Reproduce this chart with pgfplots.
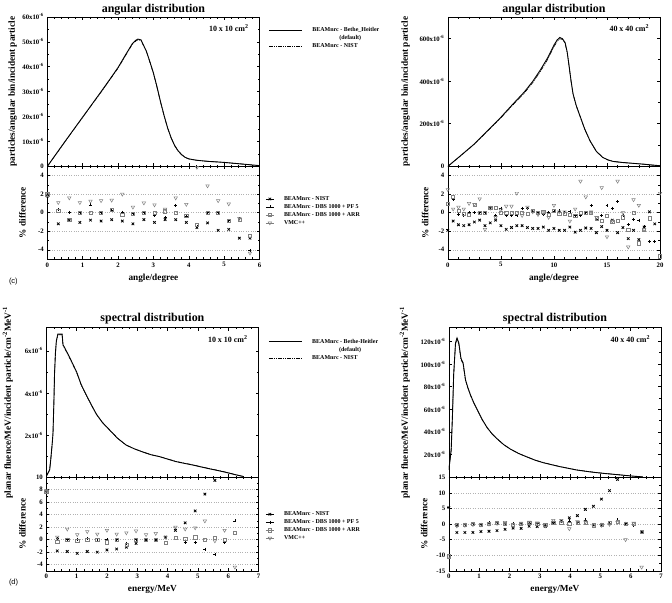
\documentclass[border=0pt]{standalone}
\usepackage{pgfplots}
\pgfplotsset{compat=1.18}
\usepackage{fontspec}
\setmainfont{Liberation Serif}
\newfontfamily\arialf{Liberation Sans}
\begin{document}
\pgfplotsset{
  base/.style={scale only axis, width=213pt,
    axis line style={line width=0.6pt},
    tick style={black, line width=0.5pt},
    major tick length=3pt, minor tick length=1.6pt,
    tick label style={font=\fontsize{6.8}{7}\selectfont\bfseries},
    label style={font=\fontsize{9.3}{10}\selectfont\bfseries},
    title style={font=\fontsize{12}{13}\selectfont\bfseries, at={(rel axis cs:0.5,1)}, anchor=base},
    /pgf/number format/assume math mode=true,
    anchor=north west},
  legbase/.style={legend style={draw=none, fill=none, inner xsep=0pt, inner ysep=0pt,
      font=\fontsize{6}{7}\selectfont\bfseries,
      nodes={inner xsep=2pt, inner ysep=0.5pt, text height=4.6pt, text depth=1.4pt},
      cells={anchor=west}, row sep=1pt,
      /tikz/every odd column/.append style={column sep=8pt}}},
  upper/.style={base, height=150pt, xticklabels={}, minor x tick num=4, minor y tick num=1, legbase,
    legend image code/.code={\draw[##1] (0pt,0pt) -- (33pt,0pt);}},
  lower/.style={base, minor x tick num=4, minor y tick num=1, legbase,
    ymajorgrids, grid style={gray!60, dotted, line width=0.5pt},
    legend image code/.code={\path (0pt,0pt) -- (8pt,0pt); \draw[mark repeat=2,mark phase=2,##1] plot coordinates {(0pt,0pt) (4pt,0pt) (8pt,0pt)};}},
  bh/.style={black, line width=0.9pt},
  nistl/.style={black, line width=0.6pt, dash pattern=on 4pt off 1pt on 1pt off 1pt on 1pt off 1pt},
  nist/.style={only marks, mark=x, mark size=1.8pt, black, mark options={line width=0.8pt}},
  pf/.style={only marks, mark=+, mark size=1.5pt, black, mark options={line width=0.6pt}},
  arr/.style={only marks, mark=square, mark size=1.6pt, gray, mark options={line width=0.5pt}},
  vmc/.style={only marks, mark=triangle, mark size=2pt, gray, mark options={rotate=180, line width=0.5pt}},
  ylab/.style={ylabel style={at={([xshift=#1]rel axis cs:0,0.5)}, anchor=south}},
}
\begin{tikzpicture}[x=1pt,y=1pt]
\useasboundingbox (0,0) rectangle (672,605);
% ================= TL upper =================
\begin{axis}[upper, at={(45pt,588pt)}, xmin=0, xmax=6, ymin=0, ymax=60,
  xtick={0,1,...,6},
  ytick={0,10,...,60},
  yticklabels={0,10x10\textsuperscript{-6},20x10\textsuperscript{-6},30x10\textsuperscript{-6},40x10\textsuperscript{-6},50x10\textsuperscript{-6},60x10\textsuperscript{-6}},
  title={angular distribution}, title style={yshift=-1.5pt},
  ylabel={particles/angular bin/incident particle}, ylab=-27pt,
  legend style={at={(1.042,0.937)}, anchor=north west}]
\addplot[bh] coordinates {(0,0)(0.5,10)(1,19.8)(1.5,29.6)(1.75,34.6)(2,39.7)(2.2,44.5)(2.4,49.2)(2.5,50.6)(2.56,51.1)(2.65,50.8)(2.7,49.2)(2.8,46.3)(2.9,42)(3.0,37.5)(3.1,32)(3.2,26)(3.3,20.5)(3.4,15.5)(3.5,11.5)(3.6,8.4)(3.7,6.2)(3.8,4.7)(3.9,3.6)(4.0,3.0)(4.2,2.5)(4.4,2.2)(4.6,1.95)(4.8,1.8)(5.0,1.6)(5.2,1.35)(5.5,0.95)(5.8,0.55)(6.0,0.3)};
\addlegendentry{BEAMnrc - Bethe\_Heitler}
\addlegendimage{empty legend}
\addlegendentry{\hspace*{27pt}(default)}
\addplot[nistl] coordinates {(0,0)(0.5,9.9)(1,19.7)(1.5,29.4)(1.75,34.4)(2,39.4)(2.2,44.2)(2.4,48.9)(2.5,50.3)(2.56,50.8)(2.65,50.5)(2.7,49.0)(2.8,46.1)(2.9,41.8)(3.0,37.3)(3.1,31.8)(3.2,25.8)(3.3,20.4)(3.4,15.4)(3.5,11.4)(3.6,8.3)(3.7,6.1)(3.8,4.6)(3.9,3.6)(4.0,3.0)(4.2,2.5)(4.4,2.2)(4.6,1.95)(4.8,1.75)(5.0,1.55)(5.2,1.3)(5.5,0.95)(5.8,0.55)(6.0,0.3)};
\addlegendentry{BEAMnrc - NIST}
\node[anchor=north east, font=\fontsize{8}{9}\selectfont\bfseries] at (rel axis cs:0.965,0.97) {10 x 10 cm\textsuperscript{2}};
\end{axis}
% ================= TL lower =================
\begin{axis}[lower, at={(45pt,438pt)}, height=93pt, xmin=0, xmax=6, ymin=-5, ymax=5,
  xtick={0,1,...,6}, ytick={-4,-2,0,2,4},
  xlabel={angle/degree}, ylabel={\% difference}, ylab=-18pt,
  legend style={at={(1.028,0.688)}, anchor=north west}]
\addplot[nist] coordinates {(0,1.8)(0.31,-1.2)(0.62,-0.8)(0.92,-1.05)(1.22,-0.8)(1.52,-0.9)(1.82,-0.75)(2.12,-0.9)(2.42,-1.2)(2.73,-0.75)(3.03,-1.05)(3.33,-0.75)(3.63,-0.75)(3.93,-1.05)(4.23,-1.6)(4.53,-1.1)(4.83,-1.9)(5.13,-1.8)(5.43,-2.75)(5.73,-2.75)};
\addlegendentry{BEAMnrc - NIST}
\addplot[pf] coordinates {(0,1.9)(0.31,0.35)(0.62,0.05)(0.92,0.0)(1.22,0.85)(1.52,0.0)(1.82,0.3)(2.12,0.05)(2.42,-0.1)(2.73,0.0)(3.03,-0.3)(3.33,-0.5)(3.63,0.8)(3.93,-0.4)(4.23,-1.5)(4.53,0.0)(4.83,0.0)(5.13,-0.85)(5.43,-0.65)(5.73,-4.1)};
\addlegendentry{BEAMnrc - DBS 1000 + PF 5}
\addplot[arr] coordinates {(0,2.0)(0.31,0.2)(0.62,-0.8)(0.92,0.0)(1.22,0.0)(1.52,0.0)(1.82,0.3)(2.12,-0.2)(2.42,-0.1)(2.73,0.0)(3.03,0.0)(3.33,0.15)(3.63,0.0)(3.93,-0.35)(4.23,-1.3)(4.53,0.0)(4.83,0.0)(5.13,-0.9)(5.43,-0.8)(5.73,-2.45)};
\addlegendentry{BEAMnrc - DBS 1000 + ARR}
\addplot[vmc] coordinates {(0,2.0)(0.31,1.1)(0.62,1.6)(0.92,1.1)(1.22,1.25)(1.52,1.3)(1.82,1.35)(2.12,2.0)(2.42,0.6)(2.73,1.05)(3.03,0.85)(3.33,0.4)(3.63,1.6)(3.93,0.9)(4.23,4.9)(4.53,2.9)(4.83,1.3)(5.13,0.95)(5.43,-0.6)(5.73,-4.35)};
\addlegendentry{VMC++}
\end{axis}
% ================= TR upper =================
\begin{axis}[upper, at={(447pt,588pt)}, xmin=0, xmax=20, ymin=0, ymax=700,
  xtick={0,5,...,20},
  ytick={0,200,400,600},
  yticklabels={0,200x10\textsuperscript{-6},400x10\textsuperscript{-6},600x10\textsuperscript{-6}},
  title={angular distribution}, title style={yshift=-1.5pt},
  ylabel={particles/angular bin/incident particle}, ylab=-34.5pt]
\addplot[bh] coordinates {(0,0)(1.2,50)(2.5,105)(3.7,165)(5,230)(6.1,290)(7.2,348)(8,398)(8.7,450)(9.4,508)(10,568)(10.3,592)(10.55,604)(10.8,598)(11.05,580)(11.25,535)(11.4,481)(11.6,405)(11.8,340)(12.1,285)(12.5,230)(12.9,175)(13.4,120)(14.0,70)(14.6,42)(15.1,30)(15.6,23)(16.5,18)(17.5,14)(18.5,10)(19.3,6)(20,3)};
\addplot[nistl] coordinates {(0,0)(1.2,49)(2.5,104)(3.7,163)(5,227)(6.1,286)(7.2,343)(8,392)(8.7,443)(9.4,500)(10,560)(10.3,585)(10.55,598)(10.8,594)(11.05,577)(11.25,532)(11.4,479)(11.6,403)(11.8,338)(12.1,284)(12.5,229)(12.9,174)(13.4,119)(14.0,70)(14.6,42)(15.1,30)(15.6,23)(16.5,18)(17.5,14)(18.5,10)(19.3,6)(20,3)};
\node[anchor=north east, font=\fontsize{8}{9}\selectfont\bfseries] at (rel axis cs:0.965,0.97) {40 x 40 cm\textsuperscript{2}};
\end{axis}
% ================= TR lower =================
\begin{axis}[lower, at={(447pt,438pt)}, height=93pt, xmin=0, xmax=20, ymin=-5, ymax=5,
  xtick={0,5,...,20}, ytick={-4,-2,0,2,4},
  xlabel={angle/degree}, ylabel={\% difference}, ylab=-16pt]
\addplot[nist] coordinates {(0,-1.9)(0.5,-0.9)(1,-1.3)(1.5,-1.4)(2,-1.3)(2.5,-1.0)(3,-0.8)(3.5,-1.4)(4,-1.1)(4.5,-0.8)(5,-1.4)(5.5,-1.8)(6,-1.6)(6.5,-1.4)(7,-1.4)(7.5,-1.6)(8,-1.7)(8.5,-1.7)(9,-1.55)(9.5,-1.9)(10,-1.7)(10.5,-1.9)(11,-1.9)(11.5,-1.55)(12,-2.1)(12.5,-1.9)(13,-1.65)(13.5,-1.7)(14,-2.15)(14.5,-1.5)(15,-1.9)(15.5,-0.8)(16,-2.15)(16.5,-1.6)(17,-2.8)(17.5,-1.9)(18,-2.9)(18.5,-1.55)(19,0.1)(19.5,-1.2)};
\addplot[pf] coordinates {(0,-1.8)(0.5,1.4)(1,-0.2)(1.5,-0.3)(2,0.0)(2.5,0.0)(3,0.0)(3.5,0.0)(4,0.6)(4.5,-0.3)(5,0.5)(5.5,-0.3)(6,-0.3)(6.5,-0.3)(7,0.5)(7.5,0.5)(8,0.1)(8.5,0.0)(9,-0.2)(9.5,0.0)(10,0.1)(10.5,0.2)(11,0.0)(11.5,0.1)(12,-0.3)(12.5,-0.3)(13,0.0)(13.5,0.8)(14,-0.7)(14.5,-0.3)(15,0.8)(15.5,0.5)(16,1.2)(16.5,-0.3)(17,-1.3)(17.5,-0.7)(18,-0.8)(18.5,-1.5)(19,-3.1)(19.5,-3.1)};
\addplot[arr] coordinates {(0,1.0)(0.5,1.7)(1,0.2)(1.5,-0.1)(2,-0.2)(2.5,0.9)(3,0.0)(3.5,0.0)(4,0.5)(4.5,0.5)(5,0.0)(5.5,0.0)(6,0.0)(6.5,0.0)(7,0.0)(7.5,-0.1)(8,0.2)(8.5,0.0)(9,0.1)(9.5,-0.2)(10,0.2)(10.5,-0.1)(11,-0.1)(11.5,-0.2)(12,-0.3)(12.5,0.0)(13,0.0)(13.5,0.0)(14,-0.6)(14.5,-0.9)(15,-0.3)(15.5,-1.0)(16,-0.9)(16.5,-0.5)(17,-1.8)(17.5,0.0)(18,-3.3)(18.5,-1.8)(19,-0.6)(20,-4.7)};
\addplot[vmc] coordinates {(0,2.5)(0.5,0.4)(1,0.6)(1.5,0.4)(2,1.0)(2.5,0.9)(3,1.5)(3.5,-1.8)(4,0.5)(4.5,-0.5)(5,0.3)(5.5,0.7)(6,0.7)(6.5,2.1)(7,-0.3)(7.5,0.6)(8,0.1)(8.5,-0.2)(9,0.0)(9.5,-0.5)(10,0.8)(10.5,0.1)(11,0.1)(11.5,-0.9)(12,0.4)(12.5,3.4)(13,1.7)(13.5,0.1)(14,-0.5)(14.5,2.7)(15,-2.6)(15.5,-0.9)(16,3.4)(16.5,0.0)(17,-3.7)(17.5,1.4)(18,0.8)(18.5,-1.8)(20,2.1)};
\end{axis}
% ================= BL upper =================
\begin{axis}[upper, at={(44pt,276pt)}, xmin=0, xmax=7, ymin=0, ymax=7.1,
  xtick={0,1,...,7}, minor x tick num=3,
  ytick={0,2,4,6},
  yticklabels={,2x10\textsuperscript{-6},4x10\textsuperscript{-6},6x10\textsuperscript{-6}},
  title={spectral distribution}, title style={yshift=0.5pt},
  ylabel={planar fluence/MeV/incident particle/cm\textsuperscript{-2}MeV\textsuperscript{-1}}, ylab=-30pt,
  legend style={at={(1.046,0.93)}, anchor=north west}]
\addplot[bh] coordinates {(0,0.05)(0.11,0.35)(0.15,0.9)(0.2,1.7)(0.22,2.1)(0.25,3.6)(0.27,4.9)(0.3,5.9)(0.33,6.47)(0.38,6.8)(0.52,6.8)(0.55,6.3)(0.66,6.0)(0.8,5.6)(1.0,5.0)(1.15,4.4)(1.32,3.9)(1.5,3.4)(1.65,3.0)(1.85,2.6)(2.09,2.24)(2.35,1.85)(2.63,1.53)(2.9,1.35)(3.18,1.2)(3.45,1.07)(3.73,0.98)(4.0,0.86)(4.28,0.74)(4.55,0.66)(4.83,0.58)(5.1,0.49)(5.38,0.4)(5.65,0.32)(5.93,0.23)(6.2,0.13)(6.48,0.04)};
\addlegendentry{BEAMnrc - Bethe-Heitler}
\addlegendimage{empty legend}
\addlegendentry{\hspace*{27pt}(default)}
\addplot[nistl] coordinates {(0,0.05)(0.11,0.35)(0.15,0.9)(0.2,1.7)(0.22,2.1)(0.25,3.55)(0.27,4.85)(0.3,5.85)(0.33,6.43)(0.38,6.77)(0.52,6.77)(0.55,6.27)(0.66,5.97)(0.8,5.57)(1.0,4.97)(1.15,4.38)(1.32,3.88)(1.5,3.39)(1.65,2.99)(1.85,2.6)(2.09,2.24)(2.35,1.85)(2.63,1.53)(2.9,1.35)(3.18,1.2)(3.45,1.07)(3.73,0.98)(4.0,0.87)(4.28,0.75)(4.55,0.67)(4.83,0.59)(5.1,0.5)(5.38,0.41)(5.65,0.33)(5.93,0.24)(6.2,0.14)(6.48,0.04)};
\addlegendentry{BEAMnrc - NIST}
\node[anchor=north east, font=\fontsize{8}{9}\selectfont\bfseries] at (rel axis cs:0.965,0.97) {10 x 10 cm\textsuperscript{2}};
\end{axis}
% ================= BL lower =================
\begin{axis}[lower, at={(44pt,126pt)}, height=94pt, xmin=0, xmax=7, ymin=-5, ymax=10,
  xtick={0,1,...,7}, minor x tick num=3, ytick={-4,-2,...,10},
  xlabel={energy/MeV}, ylabel={\% difference}, ylab=-17pt,
  legend style={at={(1.033,0.644)}, anchor=north west}]
\addplot[nist] coordinates {(0,7.8)(0.36,-1.8)(0.69,-1.9)(1.02,-2.2)(1.35,-1.9)(1.68,-2.0)(2.0,-1.65)(2.32,-1.5)(2.64,-1.2)(2.96,-0.6)(3.29,0)(3.61,0)(3.93,0.4)(4.26,1.5)(4.58,2.7)(4.91,4.6)(5.23,7.3)(5.56,9.5)};
\addlegendentry{BEAMnrc - NIST}
\addplot[pf] coordinates {(0,7.9)(0.36,0.2)(0.69,0.1)(1.02,0.1)(1.35,0.2)(1.68,-0.2)(2.0,0)(2.32,0)(2.64,-0.6)(2.96,0)(3.29,0)(3.61,0)(3.93,0.4)(4.26,1.6)(4.58,-0.4)(4.91,-0.4)(5.23,-1.5)(5.56,-2.4)(5.88,-0.4)(6.22,3.0)};
\addlegendentry{BEAMnrc - DBS 1000 + PF 5}
\addplot[arr] coordinates {(0,7.7)(0.36,-0.3)(0.69,0)(1.02,-0.2)(1.35,0)(1.68,0)(2.0,-0.4)(2.32,0)(2.64,-0.8)(2.96,0)(3.29,0)(3.61,0)(3.93,-0.5)(4.26,0.3)(4.58,0.2)(4.91,0.4)(5.23,0)(5.56,0.3)(5.88,0)(6.22,1.1)};
\addlegendentry{BEAMnrc - DBS 1000 + ARR}
\addplot[vmc] coordinates {(0,7.9)(0.36,0.4)(0.69,1.7)(1.02,0.8)(1.35,1.3)(1.68,0.9)(2.0,1.5)(2.32,0.9)(2.64,1.1)(2.96,1.4)(3.29,0.8)(3.61,1.0)(3.93,0.4)(4.26,2.0)(4.58,1.7)(4.91,1.9)(5.23,3.0)(5.56,-0.2)(5.88,1.5)(6.22,-4.4)};
\addlegendentry{VMC++}
\end{axis}
% ================= BR upper =================
\begin{axis}[upper, at={(448pt,276pt)}, xmin=0, xmax=7, ymin=0, ymax=132,
  xtick={0,1,...,7}, minor x tick num=3,
  ytick={0,20,...,120},
  yticklabels={,20x10\textsuperscript{-6},40x10\textsuperscript{-6},60x10\textsuperscript{-6},80x10\textsuperscript{-6},100x10\textsuperscript{-6},120x10\textsuperscript{-6}},
  title={spectral distribution}, title style={yshift=0.5pt},
  ylabel={planar fluence/MeV/incident particle/cm\textsuperscript{-2}MeV\textsuperscript{-1}}, ylab=-35.5pt]
\addplot[bh] coordinates {(0,6.4)(0.077,24)(0.12,55)(0.16,91)(0.22,118.5)(0.27,123)(0.33,118.5)(0.4,105)(0.47,101)(0.55,86)(0.63,79)(0.71,73)(0.82,66)(0.93,60)(1.1,51)(1.26,44)(1.42,38.5)(1.59,34)(1.8,29)(2.02,25)(2.3,21)(2.57,18)(2.85,15)(3.12,12.8)(3.4,11)(3.67,9.3)(3.95,7.8)(4.21,6.4)(4.5,5.3)(4.76,4.4)(5.03,3.6)(5.3,2.9)(5.58,2.2)(5.85,1.5)(6.1,0.9)(6.4,0.3)};
\addplot[nistl] coordinates {(0,6.4)(0.077,24)(0.12,54)(0.16,90)(0.22,117.5)(0.27,122)(0.33,117.5)(0.4,104)(0.47,100)(0.55,85.5)(0.63,78.5)(0.71,72.5)(0.82,65.6)(0.93,59.7)(1.1,50.8)(1.26,43.8)(1.42,38.4)(1.59,33.9)(1.8,29)(2.02,25)(2.3,21)(2.57,18)(2.85,15.1)(3.12,12.9)(3.4,11.1)(3.67,9.4)(3.95,7.9)(4.21,6.5)(4.5,5.4)(4.76,4.5)(5.03,3.7)(5.3,3.0)(5.58,2.3)(5.85,1.6)(6.1,0.9)(6.4,0.3)};
\node[anchor=north east, font=\fontsize{8}{9}\selectfont\bfseries] at (rel axis cs:0.965,0.97) {40 x 40 cm\textsuperscript{2}};
\end{axis}
% ================= BR lower =================
\begin{axis}[lower, at={(448pt,126pt)}, height=94pt, xmin=0, xmax=7, ymin=-15, ymax=15,
  xtick={0,1,...,7}, minor x tick num=3, ytick={-15,-10,...,15},
  xlabel={energy/MeV}, ylabel={\% difference}, ylab=-18pt]
\addplot[nist] coordinates {(0,5.3)(0.265,-2.7)(0.53,-2.7)(0.795,-2.7)(1.06,-2.4)(1.325,-2.3)(1.59,-2.1)(1.855,-1.7)(2.12,-1.3)(2.385,-1.4)(2.65,-0.7)(2.915,-0.8)(3.18,-0.7)(3.445,0.6)(3.71,1.0)(3.975,2.0)(4.24,2.7)(4.505,4.7)(4.77,5.7)(5.035,8.0)(5.3,10.7)(5.565,14.3)(6.36,-2.5)};
\addplot[pf] coordinates {(0,5.5)(0.265,-0.3)(0.53,0)(0.795,0.2)(1.06,0)(1.325,0.4)(1.59,0.5)(1.855,0.3)(2.12,0.2)(2.385,0.2)(2.65,0.4)(2.915,0.1)(3.18,-0.4)(3.445,0.5)(3.71,0.8)(3.975,1.0)(4.24,0.5)(4.505,1.3)(4.77,-0.3)(5.035,0)(5.3,0.2)(5.565,1.3)(5.83,0.3)(6.095,-0.5)(6.36,-2.5)};
\addplot[arr] coordinates {(0,-10.3)(0.265,-0.2)(0.53,-0.1)(0.795,0.1)(1.06,-0.1)(1.325,0.2)(1.59,0.3)(1.855,0.2)(2.12,-0.1)(2.385,0.1)(2.65,0.3)(2.915,0.2)(3.18,-0.3)(3.445,0.4)(3.71,0.3)(3.975,0.0)(4.24,0.3)(4.505,0.5)(4.77,-0.4)(5.035,-0.3)(5.3,0.3)(5.565,0.8)(5.83,0.0)(6.095,0.2)(6.36,-2.5)};
\addplot[vmc] coordinates {(0,-10.5)(0.265,-0.6)(0.53,-0.4)(0.795,-0.2)(1.06,-0.3)(1.325,0)(1.59,0.2)(1.855,0.5)(2.12,-0.5)(2.385,0.3)(2.65,0.6)(2.915,0.4)(3.18,-0.6)(3.445,1.2)(3.71,1.2)(3.975,-1.5)(4.24,0.8)(4.505,0.7)(4.77,-0.5)(5.035,-0.4)(5.3,-0.1)(5.565,0.5)(5.83,-5.0)(6.095,0.3)(6.36,-13.8)};
\end{axis}
\node[font=\arialf\fontsize{7.5}{8}\selectfont, anchor=west] at (3,322) {(c)};
\node[font=\arialf\fontsize{7.5}{8}\selectfont, anchor=west] at (3,20) {(d)};
\end{tikzpicture}
\end{document}
